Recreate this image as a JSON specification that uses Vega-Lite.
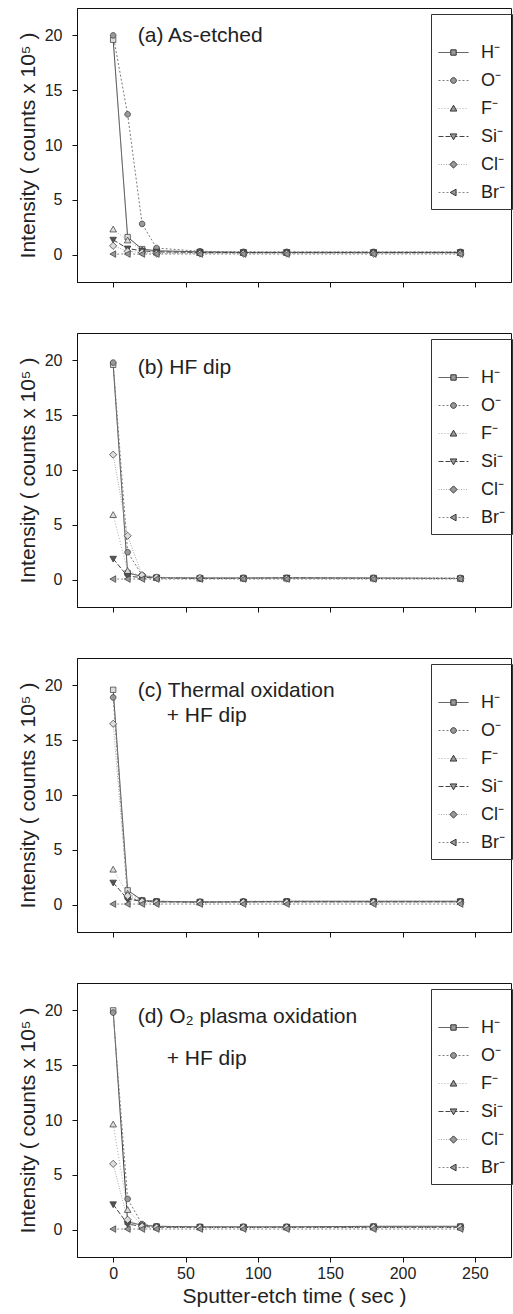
{
  "$schema": "https://vega.github.io/schema/vega-lite/v6.json",
  "background": "white",
  "padding": {"left": 16, "top": 7, "right": 2, "bottom": 0},
  "config": {
    "font": "Liberation Sans",
    "view": {"stroke": "#111", "strokeWidth": 1},
    "axis": {"grid": false, "domainColor": "#111", "tickColor": "#111", "labelColor": "#222", "titleColor": "#222", "labelFontSize": 16, "titleFontSize": 21, "titleFontWeight": "normal", "labelFont": "Liberation Sans", "titleFont": "Liberation Sans", "tickSize": 5, "labelOverlap": false, "labelBound": false, "labelFlush": false},
    "axisY": {"labelPadding": 10, "titlePadding": 6},
    "axisX": {"labelPadding": 3, "titlePadding": 4},
    "legend": {"labelFont": "Liberation Sans", "labelFontSize": 18, "labelColor": "#222", "orient": "none", "legendX": 354, "legendY": 6, "titleOpacity": 0, "titleFontSize": 14, "titlePadding": 2, "padding": 7, "symbolSize": 900, "labelOffset": 12, "rowPadding": 3, "symbolStrokeWidth": 1},
    "text": {"font": "Liberation Sans", "fontSize": 21, "color": "#222"}
  },
  "datasets": {
    "a": [
      {"t":0,"ion":"H⁻","v":19.6},{"t":10,"ion":"H⁻","v":1.6},{"t":20,"ion":"H⁻","v":0.5},{"t":30,"ion":"H⁻","v":0.35},{"t":60,"ion":"H⁻","v":0.25},{"t":90,"ion":"H⁻","v":0.2},{"t":120,"ion":"H⁻","v":0.2},{"t":180,"ion":"H⁻","v":0.2},{"t":240,"ion":"H⁻","v":0.2},
      {"t":0,"ion":"O⁻","v":20.0},{"t":10,"ion":"O⁻","v":12.8},{"t":20,"ion":"O⁻","v":2.8},{"t":30,"ion":"O⁻","v":0.6},{"t":60,"ion":"O⁻","v":0.3},{"t":90,"ion":"O⁻","v":0.25},{"t":120,"ion":"O⁻","v":0.25},{"t":180,"ion":"O⁻","v":0.25},{"t":240,"ion":"O⁻","v":0.25},
      {"t":0,"ion":"F⁻","v":2.3},{"t":10,"ion":"F⁻","v":1.3},{"t":20,"ion":"F⁻","v":0.4},{"t":30,"ion":"F⁻","v":0.2},{"t":60,"ion":"F⁻","v":0.15},{"t":90,"ion":"F⁻","v":0.15},{"t":120,"ion":"F⁻","v":0.15},{"t":180,"ion":"F⁻","v":0.15},{"t":240,"ion":"F⁻","v":0.15},
      {"t":0,"ion":"Si⁻","v":1.35},{"t":10,"ion":"Si⁻","v":0.55},{"t":20,"ion":"Si⁻","v":0.35},{"t":30,"ion":"Si⁻","v":0.25},{"t":60,"ion":"Si⁻","v":0.2},{"t":90,"ion":"Si⁻","v":0.2},{"t":120,"ion":"Si⁻","v":0.2},{"t":180,"ion":"Si⁻","v":0.2},{"t":240,"ion":"Si⁻","v":0.2},
      {"t":0,"ion":"Cl⁻","v":0.8},{"t":10,"ion":"Cl⁻","v":0.3},{"t":20,"ion":"Cl⁻","v":0.2},{"t":30,"ion":"Cl⁻","v":0.1},{"t":60,"ion":"Cl⁻","v":0.1},{"t":90,"ion":"Cl⁻","v":0.1},{"t":120,"ion":"Cl⁻","v":0.1},{"t":180,"ion":"Cl⁻","v":0.1},{"t":240,"ion":"Cl⁻","v":0.1},
      {"t":0,"ion":"Br⁻","v":0.05},{"t":10,"ion":"Br⁻","v":0.05},{"t":20,"ion":"Br⁻","v":0.05},{"t":30,"ion":"Br⁻","v":0.05},{"t":60,"ion":"Br⁻","v":0.05},{"t":90,"ion":"Br⁻","v":0.05},{"t":120,"ion":"Br⁻","v":0.05},{"t":180,"ion":"Br⁻","v":0.05},{"t":240,"ion":"Br⁻","v":0.05}
    ],
    "b": [
      {"t":0,"ion":"H⁻","v":19.6},{"t":10,"ion":"H⁻","v":0.6},{"t":20,"ion":"H⁻","v":0.3},{"t":30,"ion":"H⁻","v":0.2},{"t":60,"ion":"H⁻","v":0.15},{"t":90,"ion":"H⁻","v":0.15},{"t":120,"ion":"H⁻","v":0.15},{"t":180,"ion":"H⁻","v":0.15},{"t":240,"ion":"H⁻","v":0.1},
      {"t":0,"ion":"O⁻","v":19.8},{"t":10,"ion":"O⁻","v":2.5},{"t":20,"ion":"O⁻","v":0.4},{"t":30,"ion":"O⁻","v":0.2},{"t":60,"ion":"O⁻","v":0.15},{"t":90,"ion":"O⁻","v":0.15},{"t":120,"ion":"O⁻","v":0.15},{"t":180,"ion":"O⁻","v":0.15},{"t":240,"ion":"O⁻","v":0.15},
      {"t":0,"ion":"F⁻","v":5.9},{"t":10,"ion":"F⁻","v":0.8},{"t":20,"ion":"F⁻","v":0.3},{"t":30,"ion":"F⁻","v":0.15},{"t":60,"ion":"F⁻","v":0.1},{"t":90,"ion":"F⁻","v":0.1},{"t":120,"ion":"F⁻","v":0.1},{"t":180,"ion":"F⁻","v":0.1},{"t":240,"ion":"F⁻","v":0.1},
      {"t":0,"ion":"Si⁻","v":1.9},{"t":10,"ion":"Si⁻","v":0.3},{"t":20,"ion":"Si⁻","v":0.2},{"t":30,"ion":"Si⁻","v":0.15},{"t":60,"ion":"Si⁻","v":0.1},{"t":90,"ion":"Si⁻","v":0.1},{"t":120,"ion":"Si⁻","v":0.15},{"t":180,"ion":"Si⁻","v":0.1},{"t":240,"ion":"Si⁻","v":0.1},
      {"t":0,"ion":"Cl⁻","v":11.4},{"t":10,"ion":"Cl⁻","v":4.0},{"t":20,"ion":"Cl⁻","v":0.4},{"t":30,"ion":"Cl⁻","v":0.2},{"t":60,"ion":"Cl⁻","v":0.15},{"t":90,"ion":"Cl⁻","v":0.1},{"t":120,"ion":"Cl⁻","v":0.1},{"t":180,"ion":"Cl⁻","v":0.1},{"t":240,"ion":"Cl⁻","v":0.1},
      {"t":0,"ion":"Br⁻","v":0.05},{"t":10,"ion":"Br⁻","v":0.05},{"t":20,"ion":"Br⁻","v":0.05},{"t":30,"ion":"Br⁻","v":0.05},{"t":60,"ion":"Br⁻","v":0.05},{"t":90,"ion":"Br⁻","v":0.05},{"t":120,"ion":"Br⁻","v":0.05},{"t":180,"ion":"Br⁻","v":0.05},{"t":240,"ion":"Br⁻","v":0.05}
    ],
    "c": [
      {"t":0,"ion":"H⁻","v":19.6},{"t":10,"ion":"H⁻","v":1.3},{"t":20,"ion":"H⁻","v":0.4},{"t":30,"ion":"H⁻","v":0.3},{"t":60,"ion":"H⁻","v":0.25},{"t":90,"ion":"H⁻","v":0.25},{"t":120,"ion":"H⁻","v":0.3},{"t":180,"ion":"H⁻","v":0.3},{"t":240,"ion":"H⁻","v":0.3},
      {"t":0,"ion":"O⁻","v":18.9},{"t":10,"ion":"O⁻","v":0.6},{"t":20,"ion":"O⁻","v":0.35},{"t":30,"ion":"O⁻","v":0.3},{"t":60,"ion":"O⁻","v":0.25},{"t":90,"ion":"O⁻","v":0.3},{"t":120,"ion":"O⁻","v":0.3},{"t":180,"ion":"O⁻","v":0.3},{"t":240,"ion":"O⁻","v":0.3},
      {"t":0,"ion":"F⁻","v":3.2},{"t":10,"ion":"F⁻","v":1.0},{"t":20,"ion":"F⁻","v":0.4},{"t":30,"ion":"F⁻","v":0.25},{"t":60,"ion":"F⁻","v":0.2},{"t":90,"ion":"F⁻","v":0.25},{"t":120,"ion":"F⁻","v":0.25},{"t":180,"ion":"F⁻","v":0.25},{"t":240,"ion":"F⁻","v":0.25},
      {"t":0,"ion":"Si⁻","v":2.0},{"t":10,"ion":"Si⁻","v":0.5},{"t":20,"ion":"Si⁻","v":0.3},{"t":30,"ion":"Si⁻","v":0.25},{"t":60,"ion":"Si⁻","v":0.2},{"t":90,"ion":"Si⁻","v":0.25},{"t":120,"ion":"Si⁻","v":0.25},{"t":180,"ion":"Si⁻","v":0.25},{"t":240,"ion":"Si⁻","v":0.25},
      {"t":0,"ion":"Cl⁻","v":16.5},{"t":10,"ion":"Cl⁻","v":0.8},{"t":20,"ion":"Cl⁻","v":0.3},{"t":30,"ion":"Cl⁻","v":0.2},{"t":60,"ion":"Cl⁻","v":0.2},{"t":90,"ion":"Cl⁻","v":0.2},{"t":120,"ion":"Cl⁻","v":0.2},{"t":180,"ion":"Cl⁻","v":0.2},{"t":240,"ion":"Cl⁻","v":0.2},
      {"t":0,"ion":"Br⁻","v":0.05},{"t":10,"ion":"Br⁻","v":0.05},{"t":20,"ion":"Br⁻","v":0.05},{"t":30,"ion":"Br⁻","v":0.05},{"t":60,"ion":"Br⁻","v":0.05},{"t":90,"ion":"Br⁻","v":0.05},{"t":120,"ion":"Br⁻","v":0.05},{"t":180,"ion":"Br⁻","v":0.05},{"t":240,"ion":"Br⁻","v":0.05}
    ],
    "d": [
      {"t":0,"ion":"H⁻","v":20.0},{"t":10,"ion":"H⁻","v":0.7},{"t":20,"ion":"H⁻","v":0.4},{"t":30,"ion":"H⁻","v":0.3},{"t":60,"ion":"H⁻","v":0.25},{"t":90,"ion":"H⁻","v":0.25},{"t":120,"ion":"H⁻","v":0.25},{"t":180,"ion":"H⁻","v":0.3},{"t":240,"ion":"H⁻","v":0.3},
      {"t":0,"ion":"O⁻","v":19.8},{"t":10,"ion":"O⁻","v":2.8},{"t":20,"ion":"O⁻","v":0.5},{"t":30,"ion":"O⁻","v":0.3},{"t":60,"ion":"O⁻","v":0.25},{"t":90,"ion":"O⁻","v":0.25},{"t":120,"ion":"O⁻","v":0.25},{"t":180,"ion":"O⁻","v":0.25},{"t":240,"ion":"O⁻","v":0.25},
      {"t":0,"ion":"F⁻","v":9.6},{"t":10,"ion":"F⁻","v":1.8},{"t":20,"ion":"F⁻","v":0.4},{"t":30,"ion":"F⁻","v":0.2},{"t":60,"ion":"F⁻","v":0.2},{"t":90,"ion":"F⁻","v":0.2},{"t":120,"ion":"F⁻","v":0.2},{"t":180,"ion":"F⁻","v":0.2},{"t":240,"ion":"F⁻","v":0.2},
      {"t":0,"ion":"Si⁻","v":2.3},{"t":10,"ion":"Si⁻","v":0.5},{"t":20,"ion":"Si⁻","v":0.3},{"t":30,"ion":"Si⁻","v":0.2},{"t":60,"ion":"Si⁻","v":0.2},{"t":90,"ion":"Si⁻","v":0.2},{"t":120,"ion":"Si⁻","v":0.2},{"t":180,"ion":"Si⁻","v":0.2},{"t":240,"ion":"Si⁻","v":0.2},
      {"t":0,"ion":"Cl⁻","v":6.0},{"t":10,"ion":"Cl⁻","v":0.9},{"t":20,"ion":"Cl⁻","v":0.3},{"t":30,"ion":"Cl⁻","v":0.2},{"t":60,"ion":"Cl⁻","v":0.2},{"t":90,"ion":"Cl⁻","v":0.2},{"t":120,"ion":"Cl⁻","v":0.2},{"t":180,"ion":"Cl⁻","v":0.2},{"t":240,"ion":"Cl⁻","v":0.2},
      {"t":0,"ion":"Br⁻","v":0.05},{"t":10,"ion":"Br⁻","v":0.05},{"t":20,"ion":"Br⁻","v":0.05},{"t":30,"ion":"Br⁻","v":0.05},{"t":60,"ion":"Br⁻","v":0.05},{"t":90,"ion":"Br⁻","v":0.05},{"t":120,"ion":"Br⁻","v":0.05},{"t":180,"ion":"Br⁻","v":0.05},{"t":240,"ion":"Br⁻","v":0.05}
    ],
    "one": [{}]
  },
  "spacing": 44,
  "resolve": {"scale": {"x": "independent", "y": "independent", "stroke": "independent", "strokeDash": "independent", "shape": "independent", "fill": "independent"}},
  "vconcat": [
    {
      "width": 434, "height": 274,
      "layer": [
        {"data": {"name": "a"}, "mark": {"type": "line", "strokeWidth": 1},
         "encoding": {
           "x": {"field": "t", "type": "quantitative", "scale": {"domain": [-25, 275], "nice": false, "zero": false}, "axis": {"values": [0,50,100,150,200,250], "labels": false, "title": null}},
           "y": {"field": "v", "type": "quantitative", "scale": {"domain": [-2.5, 22.5], "nice": false, "zero": false}, "axis": {"values": [0,5,10,15,20], "title": "Intensity ( counts x 10⁵ )"}},
           "stroke": {"field": "ion", "type": "nominal", "scale": {"domain": ["H⁻","O⁻","F⁻","Si⁻","Cl⁻","Br⁻"], "range": ["#333333","#7a7a7a","#aaaaaa","#444444","#aaaaaa","#888888"]}, "legend": {"title": "·", "strokeColor": "#333", "symbolType": "stroke"}},
           "strokeDash": {"field": "ion", "type": "nominal", "scale": {"domain": ["H⁻","O⁻","F⁻","Si⁻","Cl⁻","Br⁻"], "range": [[1,0],[2,2],[1,2],[5,2],[1,1.5],[2,2]]}, "legend": {"title": "·", "strokeColor": "#333", "symbolType": "stroke"}}
         }},
        {"data": {"name": "a"}, "mark": {"type": "point", "filled": true, "size": 900, "stroke": "#333", "strokeWidth": 0.7, "opacity": 1},
         "encoding": {
           "x": {"field": "t", "type": "quantitative"},
           "y": {"field": "v", "type": "quantitative"},
           "shape": {"field": "ion", "type": "nominal", "sort": ["H⁻","O⁻","F⁻","Si⁻","Cl⁻","Br⁻"], "scale": {"range": ["M-0.18,-0.18H0.18V0.18H-0.18Z","M-0.19,0A0.19,0.19,0,1,0,0.19,0A0.19,0.19,0,1,0,-0.19,0Z","M0,-0.22L0.22,0.17H-0.22Z","M0,0.22L0.22,-0.17H-0.22Z","M0,-0.24L0.24,0L0,0.24L-0.24,0Z","M-0.22,0L0.17,-0.22V0.22Z"]}, "legend": {"title": "·", "strokeColor": null, "labelOpacity": 0, "symbolFillColor": "#999999", "symbolStrokeColor": "#333333"}},
           "fill": {"field": "ion", "type": "nominal", "sort": ["H⁻","O⁻","F⁻","Si⁻","Cl⁻","Br⁻"], "scale": {"range": ["#dddddd","#999999","#dddddd","#555555","#dddddd","#999999"]}, "legend": null}
         }},
        {"data": {"name": "one"}, "mark": {"type": "text", "align": "left", "baseline": "middle"},
         "encoding": {"x": {"datum": 17, "type": "quantitative"}, "y": {"datum": 19.9, "type": "quantitative"}, "text": {"value": "(a) As-etched"}}}
      ]
    },
    {
      "width": 434, "height": 274,
      "layer": [
        {"data": {"name": "b"}, "mark": {"type": "line", "strokeWidth": 1},
         "encoding": {
           "x": {"field": "t", "type": "quantitative", "scale": {"domain": [-25, 275], "nice": false, "zero": false}, "axis": {"values": [0,50,100,150,200,250], "labels": false, "title": null}},
           "y": {"field": "v", "type": "quantitative", "scale": {"domain": [-2.5, 22.5], "nice": false, "zero": false}, "axis": {"values": [0,5,10,15,20], "title": "Intensity ( counts x 10⁵ )"}},
           "stroke": {"field": "ion", "type": "nominal", "scale": {"domain": ["H⁻","O⁻","F⁻","Si⁻","Cl⁻","Br⁻"], "range": ["#333333","#7a7a7a","#aaaaaa","#444444","#aaaaaa","#888888"]}, "legend": {"title": "·", "strokeColor": "#333", "symbolType": "stroke"}},
           "strokeDash": {"field": "ion", "type": "nominal", "scale": {"domain": ["H⁻","O⁻","F⁻","Si⁻","Cl⁻","Br⁻"], "range": [[1,0],[2,2],[1,2],[5,2],[1,1.5],[2,2]]}, "legend": {"title": "·", "strokeColor": "#333", "symbolType": "stroke"}}
         }},
        {"data": {"name": "b"}, "mark": {"type": "point", "filled": true, "size": 900, "stroke": "#333", "strokeWidth": 0.7, "opacity": 1},
         "encoding": {
           "x": {"field": "t", "type": "quantitative"},
           "y": {"field": "v", "type": "quantitative"},
           "shape": {"field": "ion", "type": "nominal", "sort": ["H⁻","O⁻","F⁻","Si⁻","Cl⁻","Br⁻"], "scale": {"range": ["M-0.18,-0.18H0.18V0.18H-0.18Z","M-0.19,0A0.19,0.19,0,1,0,0.19,0A0.19,0.19,0,1,0,-0.19,0Z","M0,-0.22L0.22,0.17H-0.22Z","M0,0.22L0.22,-0.17H-0.22Z","M0,-0.24L0.24,0L0,0.24L-0.24,0Z","M-0.22,0L0.17,-0.22V0.22Z"]}, "legend": {"title": "·", "strokeColor": null, "labelOpacity": 0, "symbolFillColor": "#999999", "symbolStrokeColor": "#333333"}},
           "fill": {"field": "ion", "type": "nominal", "sort": ["H⁻","O⁻","F⁻","Si⁻","Cl⁻","Br⁻"], "scale": {"range": ["#dddddd","#999999","#dddddd","#555555","#dddddd","#999999"]}, "legend": null}
         }},
        {"data": {"name": "one"}, "mark": {"type": "text", "align": "left", "baseline": "middle"},
         "encoding": {"x": {"datum": 17, "type": "quantitative"}, "y": {"datum": 19.3, "type": "quantitative"}, "text": {"value": "(b) HF dip"}}}
      ]
    },
    {
      "width": 434, "height": 274,
      "layer": [
        {"data": {"name": "c"}, "mark": {"type": "line", "strokeWidth": 1},
         "encoding": {
           "x": {"field": "t", "type": "quantitative", "scale": {"domain": [-25, 275], "nice": false, "zero": false}, "axis": {"values": [0,50,100,150,200,250], "labels": false, "title": null}},
           "y": {"field": "v", "type": "quantitative", "scale": {"domain": [-2.5, 22.5], "nice": false, "zero": false}, "axis": {"values": [0,5,10,15,20], "title": "Intensity ( counts x 10⁵ )"}},
           "stroke": {"field": "ion", "type": "nominal", "scale": {"domain": ["H⁻","O⁻","F⁻","Si⁻","Cl⁻","Br⁻"], "range": ["#333333","#7a7a7a","#aaaaaa","#444444","#aaaaaa","#888888"]}, "legend": {"title": "·", "strokeColor": "#333", "symbolType": "stroke"}},
           "strokeDash": {"field": "ion", "type": "nominal", "scale": {"domain": ["H⁻","O⁻","F⁻","Si⁻","Cl⁻","Br⁻"], "range": [[1,0],[2,2],[1,2],[5,2],[1,1.5],[2,2]]}, "legend": {"title": "·", "strokeColor": "#333", "symbolType": "stroke"}}
         }},
        {"data": {"name": "c"}, "mark": {"type": "point", "filled": true, "size": 900, "stroke": "#333", "strokeWidth": 0.7, "opacity": 1},
         "encoding": {
           "x": {"field": "t", "type": "quantitative"},
           "y": {"field": "v", "type": "quantitative"},
           "shape": {"field": "ion", "type": "nominal", "sort": ["H⁻","O⁻","F⁻","Si⁻","Cl⁻","Br⁻"], "scale": {"range": ["M-0.18,-0.18H0.18V0.18H-0.18Z","M-0.19,0A0.19,0.19,0,1,0,0.19,0A0.19,0.19,0,1,0,-0.19,0Z","M0,-0.22L0.22,0.17H-0.22Z","M0,0.22L0.22,-0.17H-0.22Z","M0,-0.24L0.24,0L0,0.24L-0.24,0Z","M-0.22,0L0.17,-0.22V0.22Z"]}, "legend": {"title": "·", "strokeColor": null, "labelOpacity": 0, "symbolFillColor": "#999999", "symbolStrokeColor": "#333333"}},
           "fill": {"field": "ion", "type": "nominal", "sort": ["H⁻","O⁻","F⁻","Si⁻","Cl⁻","Br⁻"], "scale": {"range": ["#dddddd","#999999","#dddddd","#555555","#dddddd","#999999"]}, "legend": null}
         }},
        {"data": {"name": "one"}, "mark": {"type": "text", "align": "left", "baseline": "middle"},
         "encoding": {"x": {"datum": 17, "type": "quantitative"}, "y": {"datum": 19.5, "type": "quantitative"}, "text": {"value": "(c) Thermal oxidation"}}},
        {"data": {"name": "one"}, "mark": {"type": "text", "align": "left", "baseline": "middle"},
         "encoding": {"x": {"datum": 37, "type": "quantitative"}, "y": {"datum": 17.2, "type": "quantitative"}, "text": {"value": "+ HF dip"}}}
      ]
    },
    {
      "width": 434, "height": 274,
      "layer": [
        {"data": {"name": "d"}, "mark": {"type": "line", "strokeWidth": 1},
         "encoding": {
           "x": {"field": "t", "type": "quantitative", "scale": {"domain": [-25, 275], "nice": false, "zero": false}, "axis": {"values": [0,50,100,150,200,250], "title": "Sputter-etch time ( sec )"}},
           "y": {"field": "v", "type": "quantitative", "scale": {"domain": [-2.5, 22.5], "nice": false, "zero": false}, "axis": {"values": [0,5,10,15,20], "title": "Intensity ( counts x 10⁵ )"}},
           "stroke": {"field": "ion", "type": "nominal", "scale": {"domain": ["H⁻","O⁻","F⁻","Si⁻","Cl⁻","Br⁻"], "range": ["#333333","#7a7a7a","#aaaaaa","#444444","#aaaaaa","#888888"]}, "legend": {"title": "·", "strokeColor": "#333", "symbolType": "stroke"}},
           "strokeDash": {"field": "ion", "type": "nominal", "scale": {"domain": ["H⁻","O⁻","F⁻","Si⁻","Cl⁻","Br⁻"], "range": [[1,0],[2,2],[1,2],[5,2],[1,1.5],[2,2]]}, "legend": {"title": "·", "strokeColor": "#333", "symbolType": "stroke"}}
         }},
        {"data": {"name": "d"}, "mark": {"type": "point", "filled": true, "size": 900, "stroke": "#333", "strokeWidth": 0.7, "opacity": 1},
         "encoding": {
           "x": {"field": "t", "type": "quantitative"},
           "y": {"field": "v", "type": "quantitative"},
           "shape": {"field": "ion", "type": "nominal", "sort": ["H⁻","O⁻","F⁻","Si⁻","Cl⁻","Br⁻"], "scale": {"range": ["M-0.18,-0.18H0.18V0.18H-0.18Z","M-0.19,0A0.19,0.19,0,1,0,0.19,0A0.19,0.19,0,1,0,-0.19,0Z","M0,-0.22L0.22,0.17H-0.22Z","M0,0.22L0.22,-0.17H-0.22Z","M0,-0.24L0.24,0L0,0.24L-0.24,0Z","M-0.22,0L0.17,-0.22V0.22Z"]}, "legend": {"title": "·", "strokeColor": null, "labelOpacity": 0, "symbolFillColor": "#999999", "symbolStrokeColor": "#333333"}},
           "fill": {"field": "ion", "type": "nominal", "sort": ["H⁻","O⁻","F⁻","Si⁻","Cl⁻","Br⁻"], "scale": {"range": ["#dddddd","#999999","#dddddd","#555555","#dddddd","#999999"]}, "legend": null}
         }},
        {"data": {"name": "one"}, "mark": {"type": "text", "align": "left", "baseline": "middle"},
         "encoding": {"x": {"datum": 17, "type": "quantitative"}, "y": {"datum": 19.4, "type": "quantitative"}, "text": {"value": "(d) O₂ plasma oxidation"}}},
        {"data": {"name": "one"}, "mark": {"type": "text", "align": "left", "baseline": "middle"},
         "encoding": {"x": {"datum": 37, "type": "quantitative"}, "y": {"datum": 15.6, "type": "quantitative"}, "text": {"value": "+ HF dip"}}}
      ]
    }
  ]
}
